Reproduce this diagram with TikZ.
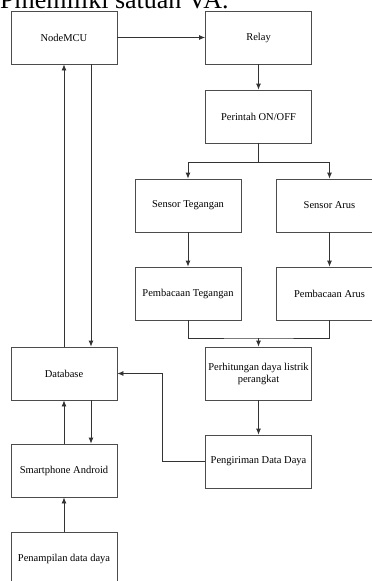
\documentclass[tikz,border=0pt]{standalone}
\usepackage{fontspec}
\setmainfont{Liberation Serif}
\usetikzlibrary{arrows.meta}
\begin{document}
\begin{tikzpicture}[x=1pt,y=-1pt,
  blok/.style={draw=black!70,line width=0.8pt,minimum width=106pt,minimum height=53pt,
    align=center,inner sep=1pt,font=\fontsize{10.5}{12}\selectfont},
  panah/.style={-{Latex[length=6pt,width=5pt]},line width=0.8pt,draw=black!80},
  garis/.style={line width=0.8pt,draw=black!80}]
  \useasboundingbox (0,0) rectangle (372,581);
  \node[anchor=base west,inner sep=0pt,font=\fontsize{26}{30}\selectfont] (judul) at (0,8) {Pmemiliki satuan VA.};
  \node[blok] (nodemcu) at (64,37.5) {NodeMCU};
  \node[blok] (relay) at (258.5,37.5) {Relay};
  \node[blok] (perintah) at (258.5,116.5) {Perintah ON/OFF};
  \node[blok] (sensorv) at (188,205.5) {Sensor Tegangan};
  \node[blok] (sensori) at (329.5,205.5) {Sensor Arus};
  \node[blok] (bacav) at (188,293.5) {Pembacaan Tegangan};
  \node[blok] (bacai) at (329.5,293.5) {Pembacaan Arus};
  \node[blok] (hitung) at (258.5,373.5) {Perhitungan daya listrik\\perangkat};
  \node[blok] (kirim) at (258.5,461.5) {Pengiriman Data Daya};
  \node[blok] (database) at (64,373.5) {Database};
  \node[blok] (hp) at (64,470.5) {Smartphone Android};
  \node[blok] (tampil) at (64,558.5) {Penampilan data daya};
  \coordinate (cabang) at (258.5,162);
  \coordinate (gabung) at (258.5,338);
  \draw[panah] (nodemcu) -- (relay);
  \draw[panah] (relay) -- (perintah);
  \draw[garis] (perintah) -- (cabang);
  \draw[panah] (cabang) -| (sensorv);
  \draw[panah] (cabang) -| (sensori);
  \draw[panah] (sensorv) -- (bacav);
  \draw[panah] (sensori) -- (bacai);
  \draw[garis] (bacav.south) |- (gabung) -| (bacai.south);
  \draw[panah] (gabung) -- (hitung);
  \draw[panah] (hitung) -- (kirim);
  \draw[panah] (kirim.west) -- ++(-43,0) |- (database.east);
  \draw[panah] (database.north) -- (nodemcu.south);
  \draw[panah] ([xshift=27pt]nodemcu.south) -- ([xshift=27pt]database.north);
  \draw[panah] (hp.north) -- (database.south);
  \draw[panah] ([xshift=27pt]database.south) -- ([xshift=27pt]hp.north);
  \draw[panah] (tampil) -- (hp);
\end{tikzpicture}
\end{document}
